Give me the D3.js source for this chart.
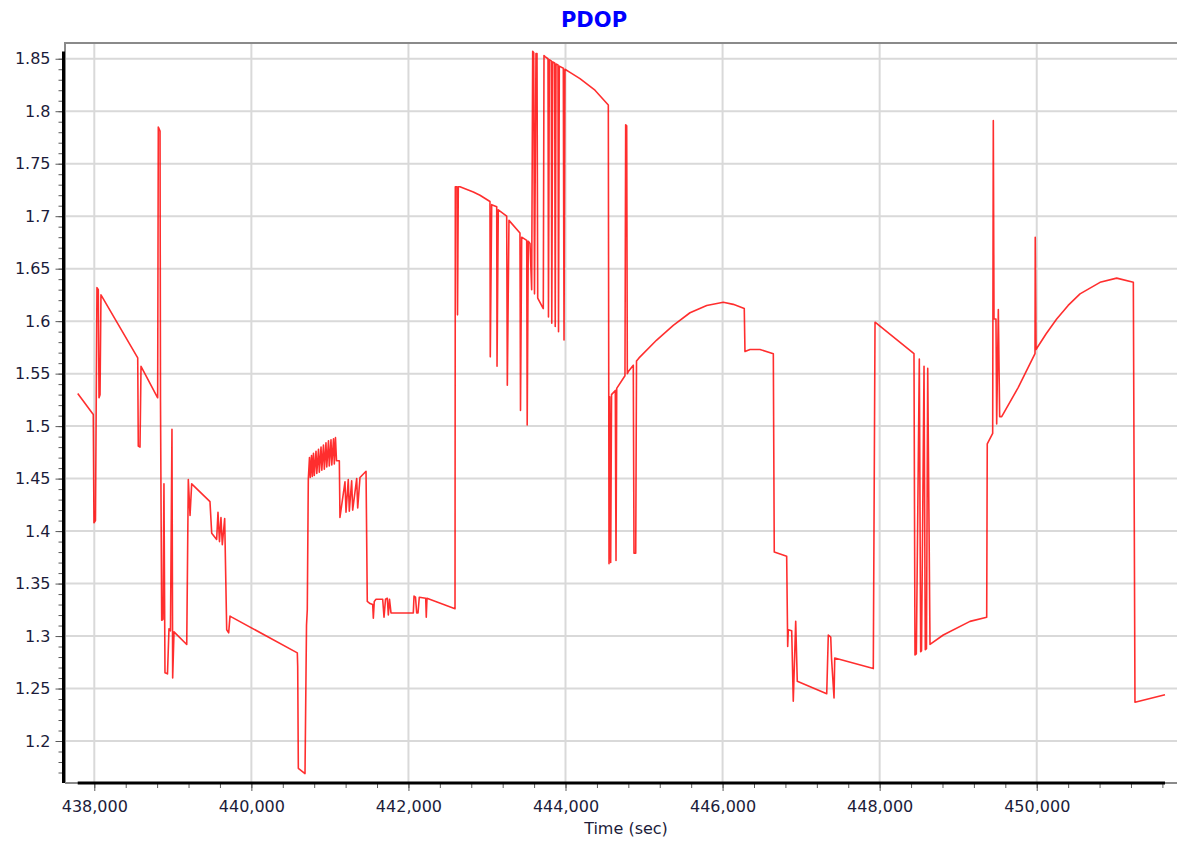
<!DOCTYPE html>
<html>
<head>
<meta charset="utf-8">
<script src="https://cdn.jsdelivr.net/npm/d3@7"></script>
<style>
  body { margin: 0; background: #fff; }
  svg { display: block; font-family: "DejaVu Sans", Verdana, sans-serif; }
</style>
</head>
<body>
<div id="chart"></div>
<script>
// PDOP over time
const timeSec = [
  437789, 437987, 437996, 438015, 438034, 438051, 438060, 438073, 438085, 438553,
  438560, 438582, 438595, 438807, 438815, 438837, 438843, 438858, 438875, 438887,
  438900, 438932, 438951, 438970, 438989, 438998, 439015, 439177, 439197, 439219,
  439240, 439473, 439495, 439558, 439575, 439594, 439613, 439630, 439660, 439686,
  439711, 439728, 439750, 440585, 440590, 440598, 440683, 440702, 440712, 440725,
  440740, 440750, 440766, 440776, 440791, 440801, 440823, 440833, 440855, 440865,
  440887, 440897, 440918, 440929, 440950, 440960, 440982, 440992, 441014, 441024,
  441046, 441056, 441071, 441084, 441120, 441128, 441192, 441205, 441234, 441247,
  441277, 441290, 441341, 441354, 441383, 441460, 441476, 441511, 441545, 441553,
  441565, 441587, 441672, 441689, 441708, 441731, 441744, 441759, 441778, 442062,
  442071, 442090, 442105, 442122, 442138, 442220, 442227, 442236, 442593, 442597,
  442618, 442625, 442635, 442656, 442826, 442911, 443038, 443042, 443060, 443124,
  443128, 443144, 443251, 443259, 443280, 443420, 443427, 443442, 443506, 443512,
  443526, 443548, 443569, 443582, 443595, 443605, 443624, 443637, 443646, 443717,
  443726, 443739, 443777, 443783, 443794, 443819, 443825, 443837, 443862, 443869,
  443879, 443904, 443911, 443921, 443972, 443981, 443993, 444057, 444184, 444375,
  444545, 444554, 444563, 444575, 444586, 444634, 444643, 444652, 444757, 444766,
  444779, 444787, 444800, 444863, 444872, 444894, 444904, 444936, 445161, 445372,
  445585, 445798, 446009, 446136, 446276, 446285, 446349, 446476, 446646, 446658,
  446816, 446829, 446837, 446880, 446900, 446931, 446951, 447326, 447346, 447377,
  447387, 447419, 447428, 447919, 447941, 448437, 448450, 448467, 448505, 448522,
  448533, 448565, 448581, 448596, 448612, 448641, 448810, 449150, 449363, 449370,
  449439, 449447, 449456, 449481, 449490, 449511, 449528, 449554, 449765, 449978,
  449981, 449991, 450120, 450254, 450400, 450551, 450806, 451018, 451230, 451251,
  451633
];
const pdop = [
  1.531, 1.511, 1.408, 1.410, 1.632, 1.630, 1.527, 1.530, 1.625, 1.565,
  1.481, 1.480, 1.557, 1.527, 1.785, 1.781, 1.523, 1.315, 1.316, 1.445,
  1.265, 1.264, 1.307, 1.305, 1.497, 1.260, 1.304, 1.292, 1.449, 1.415,
  1.445, 1.428, 1.398, 1.392, 1.418, 1.390, 1.413, 1.387, 1.412, 1.306,
  1.303, 1.319, 1.318, 1.284, 1.271, 1.174, 1.169, 1.310, 1.325, 1.449,
  1.470, 1.451, 1.472, 1.452, 1.474, 1.453, 1.476, 1.455, 1.478, 1.456,
  1.480, 1.458, 1.482, 1.459, 1.484, 1.461, 1.486, 1.462, 1.487, 1.463,
  1.488, 1.464, 1.489, 1.467, 1.467, 1.413, 1.447, 1.418, 1.449, 1.419,
  1.448, 1.420, 1.450, 1.422, 1.451, 1.457, 1.333, 1.331, 1.330, 1.317,
  1.333, 1.335, 1.335, 1.318, 1.335, 1.336, 1.320, 1.335, 1.322, 1.322,
  1.338, 1.337, 1.322, 1.322, 1.337, 1.336, 1.318, 1.336, 1.326, 1.728,
  1.728, 1.606, 1.728, 1.728, 1.723, 1.720, 1.714, 1.566, 1.711, 1.709,
  1.557, 1.706, 1.700, 1.539, 1.696, 1.684, 1.515, 1.680, 1.677, 1.501,
  1.676, 1.674, 1.630, 1.857, 1.856, 1.626, 1.855, 1.855, 1.622, 1.612,
  1.853, 1.852, 1.850, 1.604, 1.849, 1.848, 1.598, 1.847, 1.846, 1.595,
  1.845, 1.844, 1.590, 1.843, 1.841, 1.582, 1.840, 1.837, 1.831, 1.820,
  1.806, 1.369, 1.528, 1.370, 1.530, 1.534, 1.372, 1.536, 1.548, 1.787,
  1.786, 1.550, 1.552, 1.558, 1.379, 1.379, 1.562, 1.565, 1.582, 1.596,
  1.608, 1.615, 1.618, 1.616, 1.612, 1.571, 1.573, 1.573, 1.569, 1.380,
  1.376, 1.290, 1.306, 1.305, 1.238, 1.314, 1.257, 1.245, 1.301, 1.299,
  1.279, 1.241, 1.279, 1.269, 1.599, 1.569, 1.282, 1.283, 1.564, 1.285,
  1.286, 1.557, 1.287, 1.288, 1.555, 1.292, 1.301, 1.314, 1.318, 1.483,
  1.493, 1.791, 1.602, 1.602, 1.502, 1.611, 1.509, 1.509, 1.537, 1.569,
  1.680, 1.573, 1.588, 1.602, 1.615, 1.626, 1.637, 1.641, 1.637, 1.237,
  1.244
];

// axis ticks
const xTicks = [438000, 440000, 442000, 444000, 446000, 448000, 450000];
const yTicks = [1.2, 1.25, 1.3, 1.35, 1.4, 1.45, 1.5, 1.55, 1.6, 1.65, 1.7, 1.75, 1.8, 1.85];
const xDomain = [437627, 451786];
const yDomain = [1.16, 1.865];

const TITLE = 'PDOP';
const X_LABEL = 'Time (sec)';

// colors
const COLOR_LINE  = '#ff0000';
const COLOR_GRID  = '#d9d9d9';
const COLOR_TEXT  = '#1c1c3a';
const COLOR_TITLE = '#0000ff';

const width = 1177, height = 844;
const margin = { top: 43, right: 0, bottom: 61, left: 65 };

const svg = d3.select('#chart').append('svg')
    .attr('width', width)
    .attr('height', height);

const x = d3.scaleLinear()
    .domain(xDomain)
    .range([margin.left, width - margin.right]);
const y = d3.scaleLinear()
    .domain(yDomain)
    .range([height - margin.bottom, margin.top]);

const data = timeSec.map((t, i) => ({ t, v: pdop[i] }));
const x0 = margin.left, x1 = width - margin.right;
const y0 = height - margin.bottom, y1 = margin.top;

// grid
svg.append('g').selectAll('line').data(yTicks).join('line')
    .attr('x1', x0).attr('x2', x1)
    .attr('y1', d => y(d)).attr('y2', d => y(d))
    .attr('stroke', COLOR_GRID).attr('stroke-width', 2);
svg.append('g').selectAll('line').data(xTicks).join('line')
    .attr('x1', d => x(d)).attr('x2', d => x(d))
    .attr('y1', y1).attr('y2', y0)
    .attr('stroke', COLOR_GRID).attr('stroke-width', 2);

// frame
svg.append('path')
    .attr('d', `M${x0},${y0}V${y1}H${x1}`)
    .attr('fill', 'none').attr('stroke', '#8a8a8a').attr('stroke-width', 2);
svg.append('line')
    .attr('x1', x0).attr('x2', x1).attr('y1', y0).attr('y2', y0)
    .attr('stroke', '#8a8a8a').attr('stroke-width', 2);

// the PDOP line
svg.append('path')
    .datum(data)
    .attr('fill', 'none')
    .attr('stroke', COLOR_LINE)
    .attr('stroke-opacity', 0.82)
    .attr('stroke-width', 1.6)
    .attr('stroke-linejoin', 'round')
    .attr('d', d3.line().x(d => x(d.t)).y(d => y(d.v)));

// minor ticks
const xMinor = d3.range(438000, 451601, 400);
const yMinor = d3.range(117, 186).map(d => d / 100);

const fmtY = d => String(+d.toFixed(2));

const gx = svg.append('g').attr('transform', `translate(0,${y0})`);
gx.append('g').call(d3.axisBottom(x).tickValues(xMinor).tickSize(5).tickFormat(''));
gx.append('g').call(d3.axisBottom(x).tickValues(xTicks).tickSize(8).tickPadding(10).tickFormat(d3.format(',')));
gx.selectAll('.domain').remove();
gx.selectAll('line').attr('stroke', '#5a5a5a');
gx.selectAll('text').attr('fill', COLOR_TEXT).attr('font-size', '16px')
    .attr('font-family', '"DejaVu Sans", Verdana, sans-serif');

const gy = svg.append('g').attr('transform', `translate(${x0 - 1.5},0)`);
gy.append('g').call(d3.axisLeft(y).tickValues(yMinor).tickSize(5).tickFormat(''));
gy.append('g').call(d3.axisLeft(y).tickValues(yTicks).tickSize(8).tickPadding(5).tickFormat(fmtY));
gy.selectAll('.domain').remove();
gy.selectAll('line').attr('stroke', '#5a5a5a');
gy.selectAll('text').attr('fill', COLOR_TEXT).attr('font-size', '16px')
    .attr('font-family', '"DejaVu Sans", Verdana, sans-serif');

// black axis lines over the data range
const tExt = d3.extent(timeSec);
svg.append('line')
    .attr('x1', x(tExt[0])).attr('x2', x(tExt[1]))
    .attr('y1', y0).attr('y2', y0)
    .attr('stroke', '#000').attr('stroke-width', 3);
svg.append('line')
    .attr('x1', x0 - 1.5).attr('x2', x0 - 1.5)
    .attr('y1', y(d3.max(pdop))).attr('y2', y0)
    .attr('stroke', '#000').attr('stroke-width', 3);

// title and axis label
svg.append('text')
    .attr('x', 594).attr('y', 27)
    .attr('text-anchor', 'middle')
    .attr('fill', COLOR_TITLE)
    .attr('font-size', '21px').attr('font-weight', 'bold')
    .text(TITLE);
svg.append('text')
    .attr('x', 626).attr('y', 834)
    .attr('text-anchor', 'middle')
    .attr('fill', COLOR_TEXT)
    .attr('font-size', '16px')
    .text(X_LABEL);
</script>
</body>
</html>
